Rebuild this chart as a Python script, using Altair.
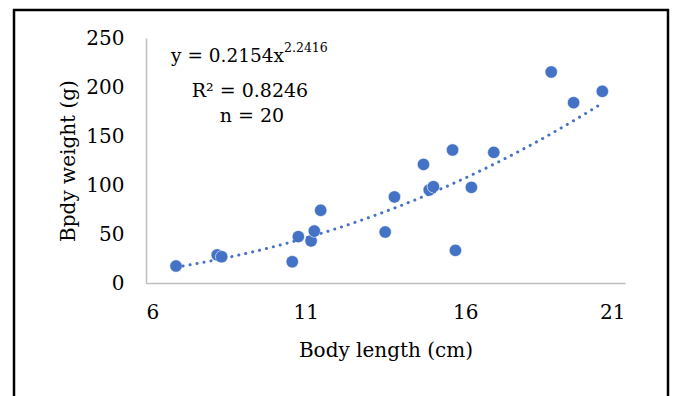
import altair as alt
import pandas as pd

# ---- data ----
body_length = [6.94, 8.23, 8.37, 10.58, 10.77, 11.17, 11.27, 11.47, 13.49, 13.78,
               14.69, 14.87, 15.00, 15.60, 15.69, 16.19, 16.89, 18.69, 19.39, 20.29]
body_weight = [17.3, 28.6, 26.8, 21.7, 47.3, 42.9, 53.0, 74.2, 52.0, 87.8,
               121.0, 94.9, 98.3, 135.7, 33.3, 97.6, 133.3, 215.3, 184.0, 195.6]
x_ticks = [6, 11, 16, 21]
y_ticks = [0, 50, 100, 150, 200, 250]
equation_main = "y = 0.2154x"
equation_exp = "2.2416"
r2_text = "R² = 0.8246"
n_text = "n = 20"
x_title = "Body length (cm)"
y_title = "Bpdy weight (g)"

FONT = "DejaVu Serif"
BLUE = "#4472C4"

df = pd.DataFrame({"x": body_length, "y": body_weight})

xs = alt.Scale(domain=[6, 21], nice=False, zero=False)
ys = alt.Scale(domain=[0, 250], nice=False)

base = alt.Chart(df)

points = base.mark_point(filled=True, size=155, opacity=1, color=BLUE,
                         stroke="white", strokeWidth=0.6).encode(
    x=alt.X("x:Q", scale=xs, axis=alt.Axis(values=x_ticks, title=x_title,
                                           labelPadding=19, titlePadding=18)),
    y=alt.Y("y:Q", scale=ys, axis=alt.Axis(values=y_ticks, title=y_title,
                                           labelPadding=22, titlePadding=7)),
)

trend = base.transform_regression("x", "y", method="pow").mark_line(
    color=BLUE, strokeWidth=3, strokeDash=[0.1, 7], strokeCap="round"
).encode(x=alt.X("x:Q", scale=xs), y=alt.Y("y:Q", scale=ys))


def label(txt, x, y, size, align="left"):
    return alt.Chart(pd.DataFrame({"t": [txt]})).mark_text(
        font=FONT, fontSize=size, color="black", align=align, baseline="alphabetic"
    ).encode(x=alt.value(x), y=alt.value(y), text="t:N")


eq1 = label(equation_main, 138, 24, 18.5, "right")
eq1s = label(equation_exp, 138, 14, 12.5)
eq2 = label(r2_text, 104, 59, 19, "center")
eq3 = label(n_text, 106, 84, 19, "center")


def rule(x, x2, y, y2):
    return alt.Chart(pd.DataFrame({"a": [0]})).mark_rule(
        color="black", strokeWidth=2.5
    ).encode(x=alt.value(x), x2=alt.value(x2), y=alt.value(y), y2=alt.value(y2))


frame_left = rule(-132, -132, -29, 420)
frame_right = rule(522, 522, -29, 420)
frame_top = rule(-133, 523, -28, -28)

chart = alt.layer(frame_left, frame_right, frame_top, points, trend,
                  eq1, eq1s, eq2, eq3).properties(
    width=479, height=245,
    autosize=alt.AutoSizeParams(type="none"),
    padding={"left": 138, "top": 30, "right": 47, "bottom": 113},
).configure_view(stroke="transparent").configure_axis(
    grid=False, ticks=False, domainColor="#BFBFBF", domainWidth=1.5,
    labelFont=FONT, labelFontSize=20, labelColor="black",
    titleFont=FONT, titleFontSize=20, titleFontWeight="normal", titleColor="black",
)

chart.save("out.html", embed_options={"renderer": "svg", "actions": False})
